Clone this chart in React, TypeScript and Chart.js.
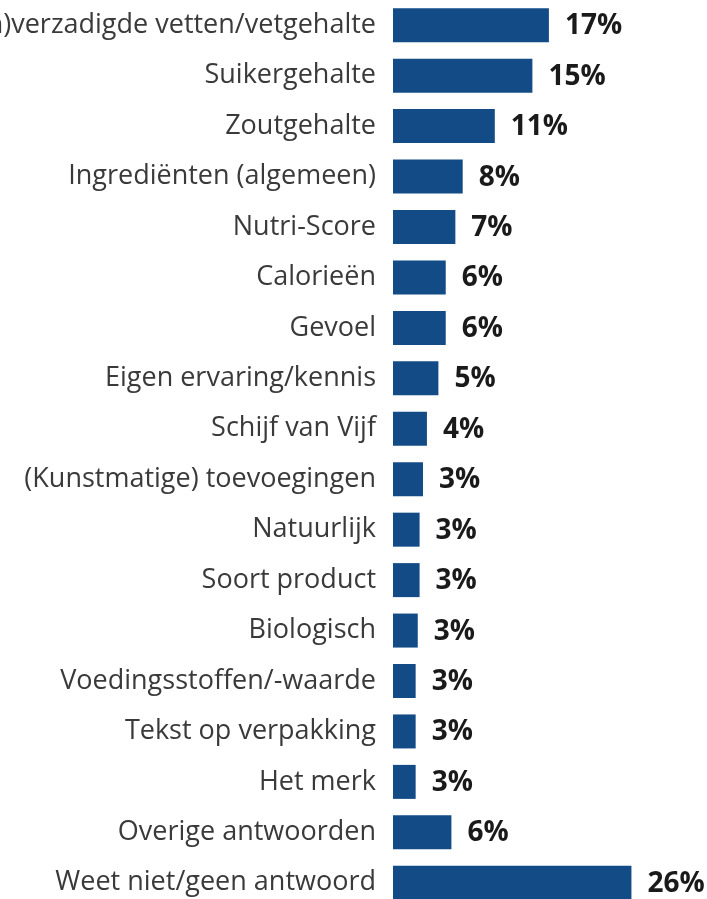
import React, { useEffect, useRef } from "react";
import { Chart, registerables } from "chart.js";

Chart.register(...registerables);

const categories = [
  "(On)verzadigde vetten/vetgehalte",
  "Suikergehalte",
  "Zoutgehalte",
  "Ingrediënten (algemeen)",
  "Nutri-Score",
  "Calorieën",
  "Gevoel",
  "Eigen ervaring/kennis",
  "Schijf van Vijf",
  "(Kunstmatige) toevoegingen",
  "Natuurlijk",
  "Soort product",
  "Biologisch",
  "Voedingsstoffen/-waarde",
  "Tekst op verpakking",
  "Het merk",
  "Overige antwoorden",
  "Weet niet/geen antwoord",
];

const values = [17.0, 15.2, 11.1, 7.6, 6.8, 5.75, 5.75, 4.95, 3.7, 3.27, 2.9, 2.9, 2.7, 2.47, 2.47, 2.47, 6.37, 26.0];

const valueLabels = ["17%", "15%", "11%", "8%", "7%", "6%", "6%", "5%", "4%", "3%", "3%", "3%", "3%", "3%", "3%", "3%", "6%", "26%"];

const BAR_COLOR = "#134B87";

const valueLabelPlugin = {
  id: "valueLabels",
  afterDatasetsDraw(chart: any) {
    const ctx = chart.ctx;
    const meta = chart.getDatasetMeta(0);
    ctx.save();
    ctx.font = "bold 28px 'Open Sans'";
    ctx.fillStyle = "#1a1a1a";
    ctx.textAlign = "left";
    ctx.textBaseline = "middle";
    meta.data.forEach((bar: any, i: number) => {
      ctx.fillText(valueLabels[i], bar.x + 16, bar.y + 1);
    });
    ctx.restore();
  },
};

export default function App() {
  const ref = useRef<HTMLCanvasElement | null>(null);

  useEffect(() => {
    if (!ref.current) return;
    const chart = new Chart(ref.current, {
      type: "bar",
      data: {
        labels: categories,
        datasets: [
          {
            data: values,
            backgroundColor: BAR_COLOR,
            borderWidth: 0,
            categoryPercentage: 1,
            barPercentage: 0.674,
          },
        ],
      },
      options: {
        indexAxis: "y",
        animation: false,
        responsive: false,
        maintainAspectRatio: false,
        layout: { padding: 0 },
        plugins: {
          legend: { display: false },
          tooltip: { enabled: false },
        },
        scales: {
          x: {
            display: false,
            min: 0,
            max: 34.24,
          },
          y: {
            afterFit: (scale: any) => {
              scale.width = 393;
              scale.paddingTop = 0;
              scale.paddingBottom = 0;
            },
            grid: { display: false, drawTicks: false },
            border: { display: false },
            ticks: {
              padding: 17,
              color: "#3a3a3a",
              font: { family: "'Open Sans'", size: 27 },
              autoSkip: false,
            },
          },
        },
      },
      plugins: [valueLabelPlugin],
    });
    return () => chart.destroy();
  }, []);

  return (
    <div
      style={{
        position: "fixed",
        left: 0,
        top: 0,
        width: 707,
        height: 899,
        overflow: "hidden",
        background: "#ffffff",
      }}
    >
      <canvas
        ref={ref}
        width={707}
        height={908}
        style={{ position: "absolute", left: 0, top: 0, width: 707, height: 908 }}
      />
    </div>
  );
}
